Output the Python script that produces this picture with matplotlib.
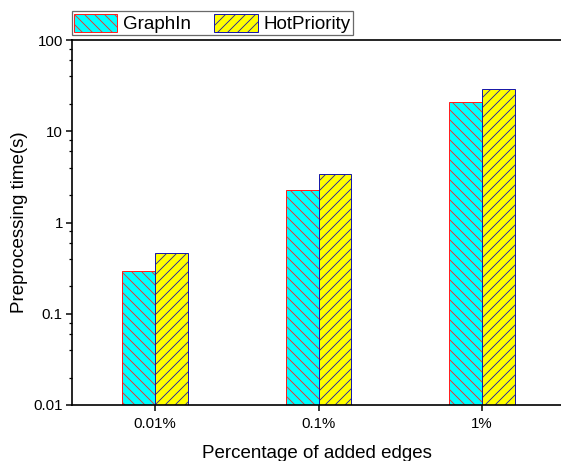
import matplotlib
matplotlib.use("Agg")
import matplotlib.pyplot as plt
import numpy as np
from matplotlib.ticker import LogLocator, FixedLocator, FixedFormatter, NullFormatter

categories = ["0.01%", "0.1%", "1%"]
graphin = [0.295, 2.27, 20.9]
hotpriority = [0.46, 3.4, 29.0]
ytick_vals = [0.01, 0.1, 1, 10, 100]
ytick_labels = ["0.01", "0.1", "1", "10", "100"]

DPI = 60
plt.rcParams["font.family"] = ["Liberation Sans", "DejaVu Sans"]
plt.rcParams["hatch.linewidth"] = 1.0

fig = plt.figure(figsize=(561 / DPI, 461 / DPI), dpi=DPI)
ax = fig.add_axes([72 / 561, 1 - 405 / 461, 1 - 72 / 561, (405 - 40) / 461])

x = np.arange(len(categories))
w = 0.2
ax.bar(x - w / 2, graphin, w, facecolor="#00ffff", edgecolor="#ff2020",
       hatch="\\\\", linewidth=1.2, label="GraphIn", zorder=2)
ax.bar(x + w / 2, hotpriority, w, facecolor="#ffff00", edgecolor="#1a1aa8",
       hatch="//", linewidth=1.2, label="HotPriority", zorder=2)

ax.set_yscale("log")
ax.set_ylim(0.01, 100)
ax.set_xlim(-0.508, 2.483)

ax.yaxis.set_major_locator(FixedLocator(ytick_vals))
ax.yaxis.set_major_formatter(FixedFormatter(ytick_labels))
ax.yaxis.set_minor_locator(LogLocator(base=10, subs=(2, 4, 6, 8)))
ax.yaxis.set_minor_formatter(NullFormatter())

ax.set_xticks(x)
ax.set_xticklabels(categories)

for s in ["left", "bottom", "top"]:
    ax.spines[s].set_linewidth(2.0)
ax.spines["right"].set_visible(False)

ax.tick_params(axis="both", which="major", direction="out", length=7, width=1.8,
               labelsize=18, color="black", pad=4)
ax.tick_params(axis="x", which="major", pad=7)
ax.tick_params(axis="y", which="minor", direction="out", length=4, width=1.5)
ax.tick_params(axis="x", which="minor", bottom=False)

ax.set_xlabel("Percentage of added edges", fontsize=22.5, labelpad=17)
ax.set_ylabel("Preprocessing time(s)", fontsize=22.5, labelpad=6)

leg = ax.legend(loc="lower left", bbox_to_anchor=(-0.0096, 1.0), ncol=2, fontsize=22.5,
                frameon=True, fancybox=False, borderpad=0.12, borderaxespad=0.25,
                handlelength=2.3, handleheight=1.1, handletextpad=0.3,
                columnspacing=1.25)
leg.get_frame().set_edgecolor("#444444")
leg.get_frame().set_linewidth(1.5)

fig.savefig("out.png", dpi=DPI)
